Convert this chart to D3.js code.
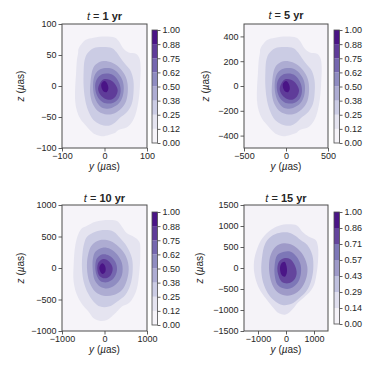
<!DOCTYPE html>
<html>
<head>
<meta charset="utf-8">
<script src="https://cdn.jsdelivr.net/npm/d3@7"></script>
<style>
  body { margin: 0; background: #fff; }
  svg { display: block; font-family: "Liberation Sans", Arial, sans-serif; }
  .axis text { font-size: 9px; fill: #262626; }
  .axis line { stroke: #4d4d4d; stroke-width: 0.9; }
  .axis path { display: none; }
  .lbl { font-size: 10px; fill: #262626; }
  .ttl { font-size: 11px; fill: #262626; }
</style>
</head>
<body>
<svg id="chart" width="374" height="374"></svg>
<script>
// Four KDE panels of the (y, z) offset, t = 1, 5, 10, 15 yr. Rings, outer → inner.

const years = ["1", "5", "10", "15"];
const limits = [100, 500, 1000, 1500];

const yTicks1 = [-100, 0, 100],   zTicks1 = [-100, -50, 0, 50, 100];
const yTicks5 = [-500, 0, 500],   zTicks5 = [-400, -200, 0, 200, 400];
const yTicks10 = [-1000, 0, 1000], zTicks10 = [-1000, -500, 0, 500, 1000];
const yTicks15 = [-1000, 0, 1000], zTicks15 = [-1500, -1000, -500, 0, 500, 1000, 1500];

const cbLabels8 = ["0.00", "0.12", "0.25", "0.38", "0.50", "0.62", "0.75", "0.88", "1.00"];
const cbLabels7 = ["0.00", "0.14", "0.29", "0.43", "0.57", "0.71", "0.86", "1.00"];

const rings1 = [
  [[-61,60],[-45,74],[-26,78],[2,80],[25,78],[33,73],[45,60],[57,54],[74,52],[82,45],[85,30],[84,9],[82,-13],[78,-32],[72,-48],[64,-59],[52,-67],[33,-71],[24,-76],[10,-79],[-6,-81],[-22,-78],[-33,-72],[-45,-63],[-57,-53],[-65,-40],[-69,-24],[-69,-2],[-67,19],[-65,41],[-62,54]],
  [[-41,52],[-26,61],[-2,63],[18,61],[29,54],[37,46],[49,35],[61,25],[68,9],[68,-13],[64,-29],[53,-42],[37,-51],[25,-59],[10,-64],[-10,-62],[-26,-55],[-37,-42],[-45,-24],[-49,-2],[-49,25],[-47,41]],
  [[-26,30],[-14,38],[6,40],[25,35],[41,25],[52,11],[55,-5],[51,-24],[40,-36],[24,-44],[6,-46],[-14,-41],[-26,-31],[-33,-16],[-33,6]],
  [[-22,19],[-10,27],[10,29],[25,25],[39,14],[45,1],[43,-16],[34,-28],[18,-35],[-2,-36],[-15,-29],[-24,-16],[-27,3]],
  [[-18,11],[-6,19],[10,20],[25,15],[35,4],[38,-8],[33,-20],[21,-27],[3,-28],[-10,-23],[-19,-13],[-22,1]],
  [[-12,3],[-2,11],[12,10],[25,3],[31,-7],[26,-17],[15,-22],[0,-20],[-11,-13],[-15,-5]],
  [[-7,4],[0,8],[7,3],[9,-5],[5,-10],[-2,-9],[-7,-3]]
];

const rings5 = [
  [[-305,300],[-225,370],[-130,390],[10,400],[125,390],[165,365],[225,300],[285,270],[370,260],[410,225],[425,150],[420,45],[410,-65],[390,-160],[360,-240],[320,-295],[260,-335],[165,-355],[120,-380],[50,-395],[-30,-405],[-110,-390],[-165,-360],[-225,-315],[-285,-265],[-325,-200],[-345,-120],[-345,-10],[-335,95],[-325,205],[-310,270]],
  [[-205,260],[-130,305],[-10,315],[90,305],[145,270],[185,230],[245,175],[305,125],[340,45],[340,-65],[320,-145],[265,-210],[185,-255],[125,-295],[50,-320],[-50,-310],[-130,-275],[-185,-210],[-225,-120],[-245,-10],[-245,125],[-235,205]],
  [[-130,150],[-70,190],[30,200],[125,175],[205,125],[260,55],[275,-25],[255,-120],[200,-180],[120,-220],[30,-230],[-70,-205],[-130,-155],[-165,-80],[-165,30]],
  [[-110,95],[-50,135],[50,145],[125,125],[195,70],[225,5],[215,-80],[170,-140],[90,-175],[-10,-180],[-75,-145],[-120,-80],[-135,15]],
  [[-90,55],[-30,95],[50,100],[125,75],[175,20],[190,-40],[165,-100],[105,-135],[15,-140],[-50,-115],[-95,-65],[-110,5]],
  [[-60,15],[-10,55],[60,50],[125,15],[155,-35],[130,-85],[75,-110],[0,-100],[-55,-65],[-75,-25]],
  [[-35,20],[0,40],[35,15],[45,-25],[25,-50],[-10,-45],[-35,-15]]
];

const rings10 = [
  [[-530,630],[-412,672],[-216,735],[98,762],[294,746],[411,656],[529,550],[686,497],[819,418],[842,206],[819,-58],[764,-323],[686,-455],[568,-561],[411,-613],[254,-719],[58,-825],[-98,-841],[-255,-799],[-373,-693],[-514,-587],[-647,-428],[-726,-217],[-726,48],[-686,365],[-608,550]],
  [[-467,418],[-412,497],[-216,577],[19,603],[215,577],[372,471],[529,339],[646,154],[662,-58],[607,-270],[490,-428],[294,-534],[98,-613],[-98,-613],[-255,-534],[-388,-402],[-490,-217],[-530,-5],[-514,259]],
  [[-388,206],[-294,365],[-98,445],[137,429],[333,339],[490,206],[568,21],[529,-190],[411,-349],[215,-428],[-20,-439],[-216,-375],[-357,-217],[-412,-5]],
  [[-271,154],[-216,259],[-44,323],[137,302],[294,217],[411,74],[411,-111],[294,-243],[98,-323],[-98,-296],[-232,-190],[-279,-5]],
  [[-216,37],[-177,154],[-44,217],[113,196],[254,101],[294,-32],[215,-164],[58,-227],[-98,-206],[-192,-100]],
  [[-169,-16],[-138,90],[-20,143],[113,101],[192,-5],[137,-122],[3,-164],[-122,-122]],
  [[-122,-5],[-98,48],[-44,74],[19,21],[19,-58],[-44,-95],[-98,-58]]
];

const rings15 = [
  [[-845,706],[-548,905],[-250,1008],[107,1040],[404,1008],[583,865],[821,746],[1059,666],[1142,508],[1142,150],[1075,-200],[985,-430],[840,-580],[640,-700],[430,-820],[240,-975],[-12,-1110],[-250,-1080],[-488,-922],[-726,-723],[-964,-485],[-1119,-167],[-1143,150],[-1024,468]],
  [[-762,547],[-607,706],[-310,825],[47,849],[285,785],[523,666],[761,547],[940,309],[975,-9],[890,-326],[730,-550],[480,-715],[180,-860],[-131,-882],[-369,-803],[-607,-644],[-786,-406],[-881,-88],[-845,309]],
  [[-548,309],[-370,507],[-72,587],[226,547],[464,428],[642,269],[761,31],[737,-207],[583,-445],[345,-604],[47,-660],[-250,-604],[-453,-445],[-572,-207],[-607,71]],
  [[-405,71],[-310,309],[-72,388],[166,388],[380,269],[523,71],[523,-167],[404,-366],[166,-485],[-96,-485],[-310,-390],[-405,-167]],
  [[-310,-9],[-250,150],[-72,230],[142,214],[309,71],[380,-128],[285,-286],[71,-366],[-155,-326],[-274,-167]],
  [[-214,-24],[-167,110],[-48,150],[24,31],[24,-128],[-48,-207],[-155,-167]]
];

const panels = [
  { yr: years[0], lim: limits[0], yt: yTicks1,  zt: zTicks1,  cb: cbLabels8, rings: rings1 },
  { yr: years[1], lim: limits[1], yt: yTicks5,  zt: zTicks5,  cb: cbLabels8, rings: rings5 },
  { yr: years[2], lim: limits[2], yt: yTicks10, zt: zTicks10, cb: cbLabels8, rings: rings10 },
  { yr: years[3], lim: limits[3], yt: yTicks15, zt: zTicks15, cb: cbLabels7, rings: rings15 }
];

// pixel boxes: plot area, colorbar, title baseline, y-label x
const layout = [
  { x0: 62,  x1: 147, y0: 24,  y1: 148, cx: 152, cy0: 30,  cy1: 143, ty: 19.5, lx: 20 },
  { x0: 244, x1: 328, y0: 24,  y1: 148, cx: 334, cy0: 30,  cy1: 143, ty: 19,   lx: 205 },
  { x0: 62,  x1: 147, y0: 205, y1: 331, cx: 152, cy0: 212, cy1: 325, ty: 202,  lx: 20 },
  { x0: 244, x1: 328, y0: 205, y1: 331, cx: 334, cy0: 212, cy1: 324, ty: 202,  lx: 199 }
];

const purples = d3.scaleLinear()
  .domain(d3.range(9).map(i => i / 8))
  .range(["#fcfbfd","#efedf5","#dadaeb","#bcbddc","#9e9ac8","#807dba","#6a51a3","#54278f","#3f007d"]);

const svg = d3.select("#chart");
const defs = svg.append("defs");

panels.forEach((p, i) => {
  const L = layout[i];
  const nb = p.cb.length - 1;
  const band = k => purples((k + 0.5) / nb);

  const x = d3.scaleLinear().domain([-p.lim, p.lim]).range([L.x0, L.x1]);
  const y = d3.scaleLinear().domain([-p.lim, p.lim]).range([L.y1, L.y0]);

  defs.append("clipPath").attr("id", "clip" + i)
    .append("rect").attr("x", L.x0).attr("y", L.y0)
    .attr("width", L.x1 - L.x0).attr("height", L.y1 - L.y0);

  const g = svg.append("g");
  const plot = g.append("g").attr("clip-path", `url(#clip${i})`);
  plot.append("rect").attr("x", L.x0).attr("y", L.y0)
    .attr("width", L.x1 - L.x0).attr("height", L.y1 - L.y0)
    .attr("fill", band(0));

  const line = d3.line().x(d => x(d[0])).y(d => y(d[1]))
    .curve(d3.curveCatmullRomClosed.alpha(0.5));
  plot.selectAll("path.ring").data(p.rings).join("path")
    .attr("class", "ring")
    .attr("d", line)
    .attr("fill", (d, k) => band(k + 1));

  g.append("g").attr("class", "axis")
    .attr("transform", `translate(0,${L.y1})`)
    .call(d3.axisBottom(x).tickValues(p.yt).tickSize(3.5).tickPadding(1.5).tickFormat(d3.format("d")));
  g.append("g").attr("class", "axis")
    .attr("transform", `translate(${L.x0},0)`)
    .call(d3.axisLeft(y).tickValues(p.zt).tickSize(3.5).tickPadding(2).tickFormat(d3.format("d")));

  g.append("rect").attr("x", L.x0).attr("y", L.y0)
    .attr("width", L.x1 - L.x0).attr("height", L.y1 - L.y0)
    .attr("fill", "none").attr("stroke", "#4d4d4d").attr("stroke-width", 1);

  // title
  const t = g.append("text").attr("class", "ttl")
    .attr("x", (L.x0 + L.x1) / 2).attr("y", L.ty).attr("text-anchor", "middle");
  t.append("tspan").attr("font-style", "italic").text("t");
  t.append("tspan").text(" = ");
  t.append("tspan").attr("font-weight", "bold").text(p.yr + " yr");

  // axis labels
  const xl = g.append("text").attr("class", "lbl")
    .attr("x", (L.x0 + L.x1) / 2).attr("y", L.y1 + 22).attr("text-anchor", "middle");
  xl.append("tspan").attr("font-style", "italic").text("y");
  xl.append("tspan").text(" (");
  xl.append("tspan").attr("font-style", "italic").text("µ");
  xl.append("tspan").text("as)");

  const yl = g.append("text").attr("class", "lbl")
    .attr("transform", `translate(${L.lx},${(L.y0 + L.y1) / 2}) rotate(-90)`)
    .attr("text-anchor", "middle").attr("dy", "0.35em");
  yl.append("tspan").attr("font-style", "italic").text("z");
  yl.append("tspan").text(" (");
  yl.append("tspan").attr("font-style", "italic").text("µ");
  yl.append("tspan").text("as)");

  // colorbar
  const c = d3.scaleLinear().domain([0, nb]).range([L.cy1, L.cy0]);
  const cw = 5.5;
  g.selectAll("rect.cb").data(d3.range(nb)).join("rect")
    .attr("class", "cb")
    .attr("x", L.cx).attr("width", cw)
    .attr("y", k => c(k + 1)).attr("height", k => c(k) - c(k + 1))
    .attr("fill", k => band(k));
  g.append("rect").attr("x", L.cx).attr("y", L.cy0)
    .attr("width", cw).attr("height", L.cy1 - L.cy0)
    .attr("fill", "none").attr("stroke", "#4d4d4d").attr("stroke-width", 0.8);
  g.append("g").attr("class", "axis")
    .attr("transform", `translate(${L.cx + cw},0)`)
    .call(d3.axisRight(c).tickValues(d3.range(nb + 1)).tickSize(3).tickPadding(2).tickFormat(k => p.cb[k]));
});
</script>
</body>
</html>
